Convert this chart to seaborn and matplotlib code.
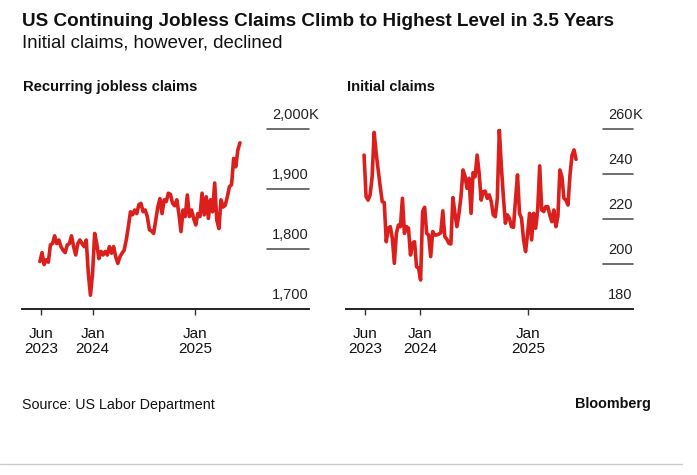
import pandas as pd
import matplotlib.pyplot as plt
import matplotlib.transforms as mtrans
import seaborn as sns

# weekly claims, thousands
recurringClaims = [
    1779, 1794, 1774, 1782, 1778, 1807, 1809, 1822, 1809, 1815,
    1804, 1798, 1794, 1807, 1809, 1822, 1804, 1790, 1809, 1815,
    1809, 1804, 1815, 1759, 1723, 1759, 1826, 1809, 1784, 1796,
    1790, 1796, 1790, 1804, 1793, 1804, 1787, 1776, 1787, 1793,
    1798, 1815, 1837, 1862, 1857, 1865, 1859, 1874, 1876, 1862,
    1865, 1854, 1832, 1830, 1826, 1848, 1870, 1884, 1859, 1882,
    1879, 1893, 1891, 1876, 1872, 1882, 1859, 1829, 1865, 1854,
    1890, 1854, 1865, 1851, 1840, 1859, 1854, 1893, 1857, 1887,
    1851, 1882, 1862, 1910, 1848, 1834, 1882, 1870, 1873, 1887,
    1904, 1907, 1951, 1937, 1965, 1977
]

initialClaims = [
    248.4, 229.9, 228.4, 230.7, 238.8, 258.5, 249.2, 241.8, 234.4, 227.7,
    227.3, 209.9, 215.9, 216.6, 211.4, 200.3, 213.6, 217.3, 216.6, 229.2,
    213.6, 216.6, 215.9, 204.0, 209.2, 209.9, 198.8, 198.1, 192.9, 223.3,
    225.2, 213.6, 212.9, 203.3, 214.4, 212.9, 212.9, 213.3, 213.9, 223.6,
    212.1, 211.0, 209.2, 208.9, 229.5, 222.5, 216.6, 222.5, 229.9, 241.8,
    239.1, 233.6, 238.1, 222.5, 240.6, 238.8, 248.4, 240.3, 228.4, 232.1,
    232.4, 229.2, 230.7, 227.7, 221.8, 221.0, 229.2, 259.6, 243.3, 229.9,
    218.1, 221.8, 220.3, 216.6, 216.3, 228.4, 239.6, 222.5, 220.3, 210.7,
    205.5, 213.6, 222.5, 210.7, 222.5, 215.9, 224.0, 243.6, 224.0, 223.3,
    225.5, 225.5, 221.8, 218.8, 224.0, 216.6, 221.0, 241.8, 238.8, 229.2,
    228.4, 226.2, 239.6, 248.4, 250.7, 246.5
]

firstWeek = "2023-06-26"
lastWeek = "2025-06-11"

xTickDates = ["2023-06-30", "2024-01-01", "2025-01-01"]
xTickLabels = ["Jun\n2023", "Jan\n2024", "Jan\n2025"]

recurringTicks = [1700, 1800, 1900, 2000]
recurringLabels = ["1,700", "1,800", "1,900", "2,000"]
initialTicks = [180, 200, 220, 240, 260]
initialLabels = ["180", "200", "220", "240", "260"]

red = "#da1f1c"
ink = "#111111"

sns.set_theme(style="white")
plt.rcParams["font.family"] = ["Liberation Sans", "DejaVu Sans"]

W, H = 697, 475
fig = plt.figure(figsize=(W / 100, H / 100), dpi=100)


def drawPanel(left, width, values, yTicks, yLabels, xLeft, xRight, dashStart, title):
    ax = fig.add_axes([left / W, 1 - 309 / H, width / W, 180 / H])
    dates = pd.date_range(firstWeek, lastWeek, periods=len(values))
    df = pd.DataFrame({"date": dates, "claims": values})
    sns.lineplot(data=df, x="date", y="claims", ax=ax, color=red, linewidth=2.6)

    ax.set_xlim(pd.Timestamp(xLeft), pd.Timestamp(xRight))
    ax.set_ylim(yTicks[0], yTicks[-1])
    ax.set_xlabel("")
    ax.set_ylabel("")
    ax.set_yticks([])
    ax.set_xticks([pd.Timestamp(d) for d in xTickDates])
    ax.set_xticklabels(xTickLabels, fontsize=11, linespacing=1.1, color=ink)
    ax.tick_params(axis="x", bottom=True, direction="out", length=4,
                   width=1, color="#333333", pad=9)

    for side in ["top", "right", "left"]:
        ax.spines[side].set_visible(False)
    ax.spines["bottom"].set_color("#222222")
    ax.spines["bottom"].set_linewidth(1.4)

    # short rules under the value labels
    lift = mtrans.offset_copy(ax.get_yaxis_transform(), fig=fig, x=0, y=7, units="points")
    for v in yTicks[1:]:
        ax.axhline(v, xmin=dashStart, xmax=1, color="#555555", lw=1.2, clip_on=False)
    for v, lab in zip(yTicks, yLabels):
        ax.text(1.0, v, lab, transform=lift, ha="right", va="baseline",
                fontsize=10.5, color="#222222")
    ax.text(1.0, yTicks[-1], "K", transform=lift, ha="left", va="baseline",
            fontsize=10.5, color="#222222")

    fig.text((left + 1) / W, 1 - 91 / H, title, fontsize=10.6, weight="bold",
             color=ink, va="baseline")
    return ax


drawPanel(22.3, 286.4, recurringClaims, recurringTicks, recurringLabels,
          "2023-04-24", "2026-02-12", 0.854, "Recurring jobless claims")
drawPanel(346, 286.6, initialClaims, initialTicks, initialLabels,
          "2023-04-26", "2025-12-19", 0.897, "Initial claims")

fig.text(22 / W, 1 - 26 / H, "US Continuing Jobless Claims Climb to Highest Level in 3.5 Years",
         fontsize=13.6, weight="bold", color=ink, va="baseline")
fig.text(22 / W, 1 - 47 / H, "Initial claims, however, declined",
         fontsize=13.4, color=ink, va="baseline")
fig.text(22 / W, 1 - 409 / H, "Source: US Labor Department",
         fontsize=10.3, color=ink, va="baseline")
fig.text(651 / W, 1 - 408 / H, "Bloomberg",
         fontsize=10.4, weight="bold", color=ink, va="baseline", ha="right")

fig.add_artist(plt.Line2D([0, 682 / W], [1 - 464 / H, 1 - 464 / H],
                          color="#cccccc", lw=1, transform=fig.transFigure))

fig.savefig("out.png", dpi=100)
